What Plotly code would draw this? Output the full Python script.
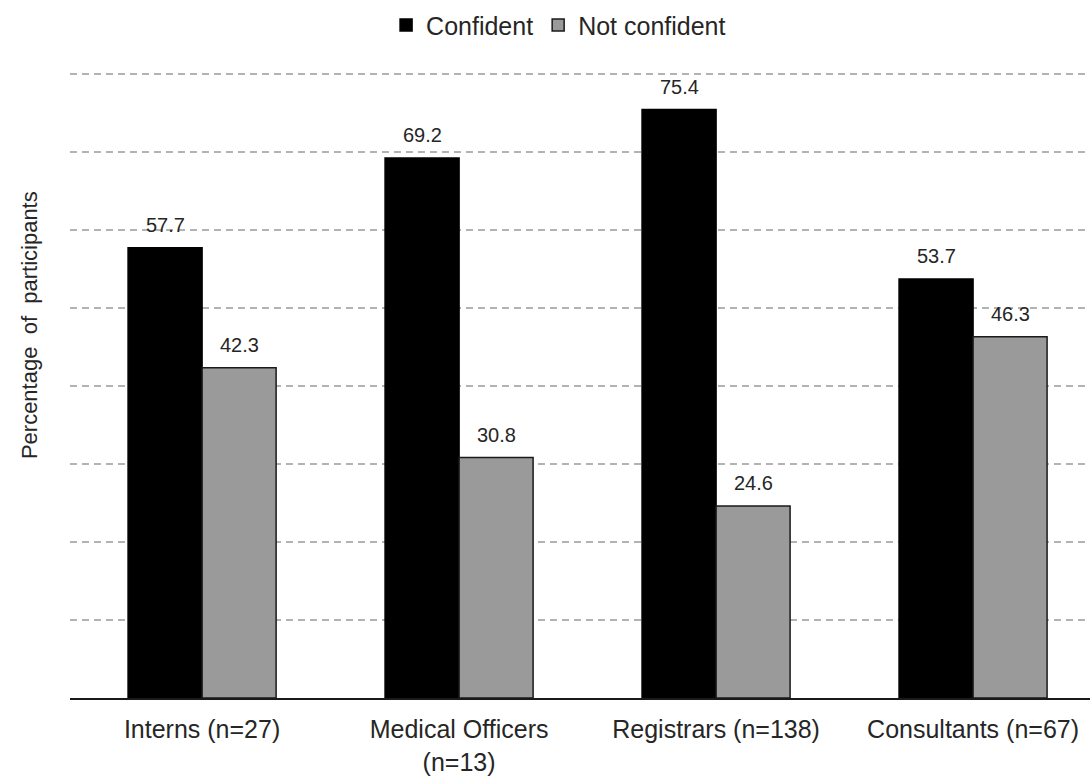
import plotly.graph_objects as go

# Confidence by level of training
categories = ["Interns (n=27)", "Medical Officers<br>(n=13)", "Registrars (n=138)", "Consultants (n=67)"]
confident = [57.7, 69.2, 75.4, 53.7]
not_confident = [42.3, 30.8, 24.6, 46.3]
series_names = ["Confident", "Not confident"]

FONT = "Liberation Sans, Arial, sans-serif"
TEXT = "#262626"
BARGAP = 0.424
half = (1 - BARGAP) / 4  # offset of each bar centre from its category centre

fig = go.Figure()
fig.add_trace(go.Bar(
    x=list(range(len(categories))), y=confident, name=series_names[0],
    marker=dict(color="#000000", line=dict(color="#000000", width=1.5)),
))
fig.add_trace(go.Bar(
    x=list(range(len(categories))), y=not_confident, name=series_names[1],
    marker=dict(color="#9a9a9a", line=dict(color="#1a1a1a", width=1.5)),
))

# value labels above each bar
annotations = []
for i, (c, n) in enumerate(zip(confident, not_confident)):
    for val, dx in ((c, -half), (n, half)):
        annotations.append(dict(
            x=i + dx, y=val, xref="x", yref="y", text=f"{val:.1f}",
            showarrow=False, yanchor="bottom", yshift=10,
            font=dict(family=FONT, size=20, color=TEXT),
        ))

# rotated y-axis title
annotations.append(dict(
    x=-0.039, y=0.583, xref="paper", yref="paper", text="Percentage  of  participants",
    showarrow=False, textangle=-90, xanchor="center", yanchor="middle",
    font=dict(family=FONT, size=22, color=TEXT),
))

fig.update_layout(
    width=1090, height=776,
    margin=dict(l=70, r=0, t=58, b=78),
    paper_bgcolor="white", plot_bgcolor="white",
    barmode="group", bargap=BARGAP, bargroupgap=0,
    font=dict(family=FONT, size=24, color=TEXT),
    legend=dict(
        orientation="h", x=0.479, y=1.051, xanchor="center", yanchor="middle",
        font=dict(family=FONT, size=25, color=TEXT), itemwidth=30,
    ),
    annotations=annotations,
    showlegend=True,
)
fig.update_xaxes(
    tickmode="array", tickvals=list(range(len(categories))), ticktext=categories,
    range=[-0.514, 3.455], showline=True, linecolor="#1a1a1a", linewidth=2,
    showgrid=False, ticks="", tickfont=dict(family=FONT, size=25, color=TEXT),
    ticklabelstandoff=8, zeroline=False, automargin=False,
)
fig.update_yaxes(
    range=[0, 82], tickvals=[10, 20, 30, 40, 50, 60, 70, 80], showticklabels=False,
    showgrid=True, gridcolor="#b3b3b3", gridwidth=1.5, griddash="7px,5px",
    zeroline=False, showline=False, ticks="", automargin=False,
)

fig.write_html("out.html")
